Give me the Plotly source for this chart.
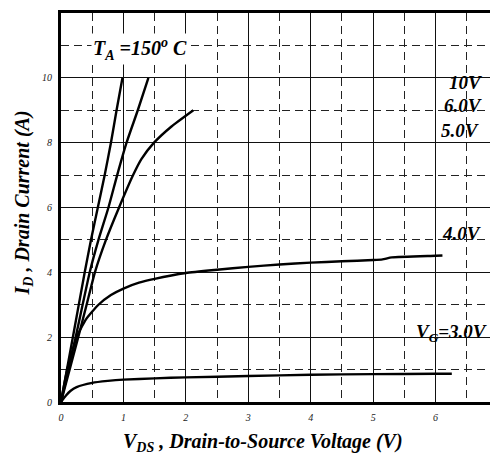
import plotly.graph_objects as go

# Output characteristics at T_A = 150 C  (V_DS in volts, I_D in amps)
vds_10v = [0, 0.19, 0.38, 0.48, 0.59, 0.70, 0.80, 0.89, 0.985]
id_10v = [0, 2, 4, 5, 6, 7, 8, 9, 10]

vds_6v = [0, 0.235, 0.46, 0.60, 0.76, 0.90, 1.05, 1.23, 1.40]
id_6v = [0, 2, 4, 5, 6, 7, 8, 9, 10]

vds_5v = [0, 0.276, 0.41, 0.543, 0.72, 0.93, 1.155, 1.29, 1.49, 1.77, 2.12]
id_5v = [0, 2, 3, 4, 5, 6, 7, 7.5, 8, 8.5, 9]

vds_4v = [0, 0.1, 0.25, 0.4, 0.6, 0.8, 1.0, 1.25, 1.5, 2.0, 2.5, 3.0, 3.5,
          4.0, 4.5, 5.0, 5.15, 5.3, 6.0, 6.11]
id_4v = [0, 1.0, 2.0, 2.55, 3.0, 3.3, 3.5, 3.68, 3.8, 3.98, 4.08, 4.17, 4.24,
         4.3, 4.34, 4.38, 4.4, 4.46, 4.51, 4.52]

vds_3v = [0, 0.08, 0.15, 0.25, 0.5, 0.75, 1.0, 1.5, 2.0, 3.0, 4.0, 5.0, 6.0, 6.26]
id_3v = [0, 0.2, 0.34, 0.46, 0.59, 0.65, 0.69, 0.73, 0.76, 0.8, 0.84, 0.86, 0.87, 0.87]

x_ticks = [0, 1, 2, 3, 4, 5, 6, 7]
y_ticks = [0, 2, 4, 6, 8, 10, 12]

series = [
    (vds_10v, id_10v), (vds_6v, id_6v), (vds_5v, id_5v),
    (vds_4v, id_4v), (vds_3v, id_3v),
]

SERIF = "Liberation Serif"

fig = go.Figure()
for xs, ys in series:
    fig.add_trace(go.Scatter(
        x=xs, y=ys, mode="lines",
        line=dict(color="black", width=2.4, shape="spline", smoothing=0.5),
        showlegend=False, hoverinfo="skip",
    ))

grid_solid = "#111111"
grid_dash = "#222222"

fig.update_xaxes(
    range=[0, 7], tickvals=x_ticks, ticktext=[str(v) for v in x_ticks],
    showgrid=True, gridcolor=grid_solid, gridwidth=1,
    minor=dict(dtick=0.5, tick0=0, showgrid=True, gridcolor=grid_dash,
               griddash="8px,5px", gridwidth=1),
    showline=True, linecolor="black", linewidth=3, mirror=True,
    ticks="outside", ticklen=4, tickcolor="rgba(0,0,0,0)",
    tickfont=dict(family=SERIF, size=10, style="italic", color="#222"),
    zeroline=False,
)
fig.update_yaxes(
    range=[0, 12], tickvals=y_ticks, ticktext=[str(v) for v in y_ticks],
    showgrid=True, gridcolor=grid_solid, gridwidth=1,
    minor=dict(dtick=1, tick0=0, showgrid=True, gridcolor=grid_dash,
               griddash="8px,5px", gridwidth=1),
    showline=True, linecolor="black", linewidth=3, mirror=False,
    ticks="outside", ticklen=4, tickcolor="rgba(0,0,0,0)",
    tickfont=dict(family=SERIF, size=10, style="italic", color="#222"),
    zeroline=False,
)

bold_it = dict(family=SERIF, style="italic", weight="bold", color="black")

annotations = [
    dict(x=1.27, y=10.88, xref="x", yref="y", text="T<sub>A</sub> =150<sup>o</sup> C",
         showarrow=False, bgcolor="white", font=dict(size=20, **bold_it),
         xanchor="center", yanchor="middle"),
    dict(x=6.77, y=9.86, xref="x", yref="y", text="10V", showarrow=False,
         font=dict(size=19, **bold_it), xanchor="right", yanchor="middle"),
    dict(x=6.77, y=9.14, xref="x", yref="y", text="6.0V", showarrow=False,
         font=dict(size=19, **bold_it), xanchor="right", yanchor="middle"),
    dict(x=6.73, y=8.38, xref="x", yref="y", text="5.0V", showarrow=False,
         font=dict(size=19, **bold_it), xanchor="right", yanchor="middle"),
    dict(x=6.76, y=5.21, xref="x", yref="y", text="4.0V", showarrow=False,
         font=dict(size=19, **bold_it), xanchor="right", yanchor="middle"),
    dict(x=6.85, y=2.12, xref="x", yref="y", text="V<sub>G</sub>=3.0V", showarrow=False,
         font=dict(size=19, **bold_it), xanchor="right", yanchor="middle"),
    dict(x=0, y=0.5, xref="paper", yref="paper", xshift=-38, yshift=4,
         text="I<sub>D</sub> , Drain Current (A)", textangle=-90, showarrow=False,
         font=dict(size=20, **bold_it), xanchor="center", yanchor="middle"),
    dict(x=0.462, y=0, xref="paper", yref="paper", yshift=-40,
         text="V<sub>DS</sub> , Drain-to-Source Voltage (V)", showarrow=False,
         font=dict(size=20, **bold_it), xanchor="center", yanchor="middle"),
]

# the page body adds an 8px offset, so margins are trimmed to keep the
# plot area where it sits in the reference
fig.update_layout(
    width=498, height=457,
    margin=dict(l=53, r=8, t=2, b=63),
    paper_bgcolor="white", plot_bgcolor="white",
    annotations=annotations,
)

fig.write_html("out.html")
